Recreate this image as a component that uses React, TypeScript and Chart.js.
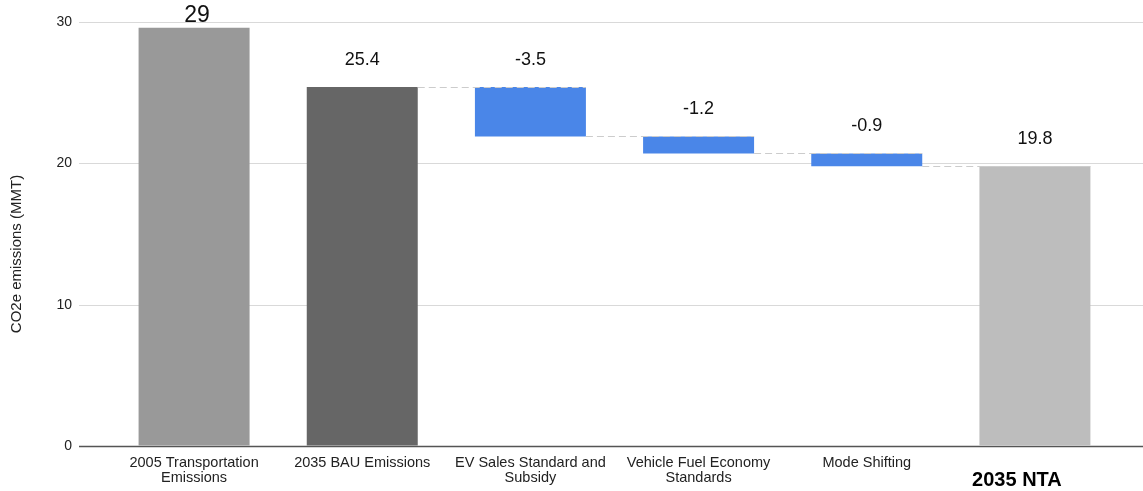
import React, { useEffect, useRef } from "react";
import { Chart, registerables } from "chart.js";

Chart.register(...registerables);

const categories: (string | string[])[] = [
  ["2005 Transportation", "Emissions"],
  "2035 BAU Emissions",
  ["EV Sales Standard and", "Subsidy"],
  ["Vehicle Fuel Economy", "Standards"],
  "Mode Shifting",
  "2035 NTA",
];
const barLow = [0, 0, 21.9, 20.7, 19.8, 0];
const barHigh = [29.6, 25.4, 25.4, 21.9, 20.7, 19.8];
const valueLabels = ["29", "25.4", "-3.5", "-1.2", "-0.9", "19.8"];
const barColors = ["#999999", "#666666", "#4a86e8", "#4a86e8", "#4a86e8", "#bdbdbd"];
const connectorFrom = [1, 2, 3, 4];
const yTicks = [0, 10, 20, 30];
const yTitle = "CO2e emissions (MMT)";

const FONT = "Arial, 'Liberation Sans', Helvetica, sans-serif";

export default function App() {
  const ref = useRef<HTMLCanvasElement>(null);

  useEffect(() => {
    const canvas = ref.current!;

    const gridPlugin = {
      id: "fullGrid",
      beforeDatasetsDraw(chart: any) {
        const { ctx, scales } = chart;
        const y = scales.y;
        const left = chart.chartArea.left - 31;
        ctx.save();
        yTicks.forEach((v) => {
          const py = Math.round(y.getPixelForValue(v)) + 0.5;
          ctx.beginPath();
          ctx.strokeStyle = v === 0 ? "#555555" : "#d9d9d9";
          ctx.lineWidth = v === 0 ? 1.5 : 1;
          ctx.moveTo(left, py);
          ctx.lineTo(chart.width, py);
          ctx.stroke();
        });
        // axis title
        ctx.save();
        ctx.translate(16.5, (chart.chartArea.top + chart.chartArea.bottom) / 2 + 20);
        ctx.rotate(-Math.PI / 2);
        ctx.fillStyle = "#222222";
        ctx.font = `15px ${FONT}`;
        ctx.textAlign = "center";
        ctx.textBaseline = "middle";
        ctx.fillText(yTitle, 0, 0);
        ctx.restore();
        ctx.restore();
      },
    };

    const annotPlugin = {
      id: "waterfallAnnot",
      afterDatasetsDraw(chart: any) {
        const { ctx, scales } = chart;
        const y = scales.y;
        const meta = chart.getDatasetMeta(0);
        ctx.save();
        // connectors
        ctx.strokeStyle = "#cccccc";
        ctx.lineWidth = 1;
        ctx.setLineDash([7, 4]);
        connectorFrom.forEach((i) => {
          const a = meta.data[i];
          const b = meta.data[i + 1];
          const level = i <= 1 ? barHigh[i] : barLow[i];
          const py = Math.round(y.getPixelForValue(level)) + 0.5;
          ctx.beginPath();
          ctx.moveTo(a.x + a.width / 2, py);
          ctx.lineTo(b.x + b.width / 2, py);
          ctx.stroke();
        });
        ctx.setLineDash([]);
        // value labels
        ctx.fillStyle = "#111111";
        ctx.textAlign = "center";
        ctx.textBaseline = "middle";
        valueLabels.forEach((t, i) => {
          const el = meta.data[i];
          const top = y.getPixelForValue(barHigh[i]);
          if (i === 0) {
            ctx.font = `23px ${FONT}`;
            ctx.fillText(t, el.x + 3, top - 12);
          } else {
            ctx.font = `18px ${FONT}`;
            ctx.fillText(t, el.x, top - 27);
          }
        });
        // last category label (bold, lower)
        const last = meta.data[categories.length - 1];
        ctx.font = `bold 20px ${FONT}`;
        ctx.fillStyle = "#000000";
        ctx.fillText(categories[categories.length - 1] as string, last.x - 18, chart.height - 11);
        ctx.restore();
      },
    };

    const chart = new Chart(canvas, {
      type: "bar",
      data: {
        labels: categories,
        datasets: [
          {
            data: barLow.map((lo, i) => [lo, barHigh[i]]) as any,
            backgroundColor: barColors,
            borderWidth: 0,
            categoryPercentage: 0.66,
            barPercentage: 1,
          },
        ],
      },
      options: {
        animation: false,
        responsive: true,
        maintainAspectRatio: false,
        layout: { padding: { top: 22, right: 24, left: 0, bottom: 0 } },
        plugins: {
          legend: { display: false },
          tooltip: { enabled: false },
        },
        scales: {
          x: {
            type: "category",
            offset: true,
            grid: { display: false, drawTicks: false },
            border: { display: false },
            afterFit: (s: any) => {
              s.height = 45;
            },
            ticks: {
              autoSkip: false,
              maxRotation: 0,
              minRotation: 0,
              padding: 9,
              color: "#222222",
              font: { family: FONT, size: 14.5, lineHeight: 1.05 },
              callback: (_v: any, i: number) =>
                i === categories.length - 1 ? "" : (categories[i] as any),
            },
          },
          y: {
            min: 0,
            max: 30,
            grid: {
              display: true,
              drawOnChartArea: false,
              drawTicks: true,
              tickLength: 31,
              tickColor: "rgba(0,0,0,0)",
            },
            border: { display: false },
            afterFit: (s: any) => {
              s.width = 110;
            },
            ticks: {
              stepSize: 10,
              padding: 7,
              color: "#222222",
              font: { family: FONT, size: 14 },
            },
          },
        },
      },
      plugins: [gridPlugin, annotPlugin],
    });

    return () => chart.destroy();
  }, []);

  return (
    <div style={{ position: "fixed", left: 0, top: 0, width: 1143, height: 491, background: "#ffffff" }}>
      <canvas ref={ref} />
    </div>
  );
}
